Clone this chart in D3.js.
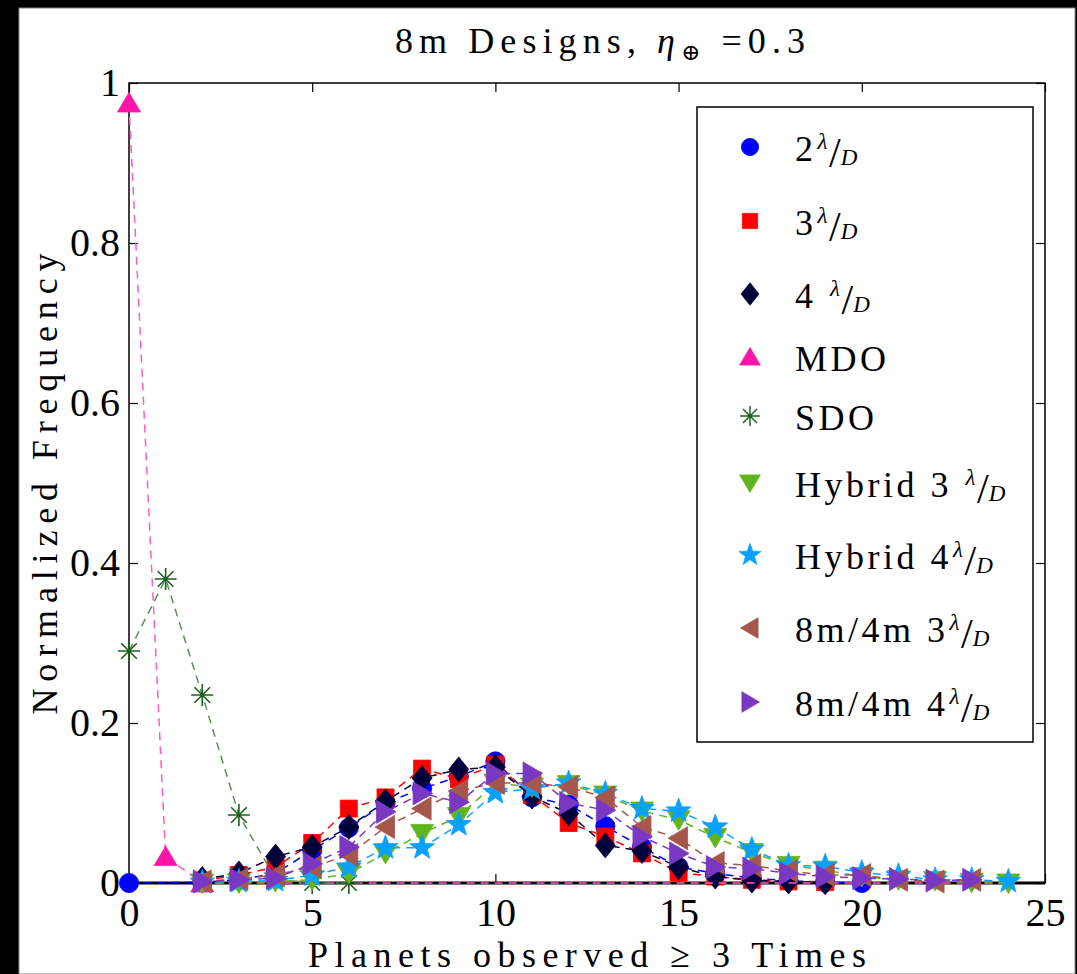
<!DOCTYPE html>
<html>
<head>
<meta charset="utf-8">
<script src="https://cdn.jsdelivr.net/npm/d3@7"></script>
<style>
  html, body { margin: 0; padding: 0; background: #000; }
  svg { display: block; }
  svg text { font-family: "Liberation Serif", "Tinos", "Times New Roman", Times, "DejaVu Serif", "Noto Serif", FreeSerif, serif; fill: #000; }
</style>
</head>
<body>
<div id="chart"></div>
<script>
// ---- data ----
const xTicks = [0, 5, 10, 15, 20, 25];
const xTickLabels = ["0", "5", "10", "15", "20", "25"];
const yTicks = [0, 0.2, 0.4, 0.6, 0.8, 1];
const yTickLabels = ["0", "0.2", "0.4", "0.6", "0.8", "1"];

const titleMain = "8m Designs, ";
const titleTail = " =0.3";
const xLabel = "Planets observed \u2265 3 Times";
const yLabel = "Normalized Frequency";

// 2 lambda/D
const d2x = [0, 2, 3, 4, 5, 6, 7, 8, 9, 10, 11, 12, 13, 14, 15, 16, 17, 18, 19, 20];
const d2y = [0, 0.001, 0.004, 0.012, 0.041, 0.069, 0.1, 0.118, 0.133, 0.152, 0.107, 0.098, 0.071, 0.045, 0.02, 0.012, 0.006, 0.003, 0.001, 0];
// 3 lambda/D
const d3x = [2, 3, 4, 5, 6, 7, 8, 9, 10, 11, 12, 13, 14, 15, 16, 17, 18, 19];
const d3y = [0.003, 0.01, 0.02, 0.05, 0.093, 0.107, 0.143, 0.13, 0.148, 0.11, 0.075, 0.058, 0.037, 0.013, 0.008, 0.004, 0.002, 0.001];
// 4 lambda/D
const d4x = [2, 3, 4, 5, 6, 7, 8, 9, 10, 11, 12, 13, 14, 15, 16, 17, 18, 19];
const d4y = [0.005, 0.012, 0.033, 0.045, 0.07, 0.102, 0.131, 0.142, 0.145, 0.108, 0.087, 0.047, 0.04, 0.02, 0.008, 0.003, 0.002, 0.001];
// MDO (markers only on first three points)
const mdoX = [0, 1, 2, 3, 4, 5, 6, 7, 8, 9, 10, 11, 12, 13, 14, 15, 16, 17, 18, 19, 20, 21, 22, 23, 24];
const mdoY = [0.975, 0.033, 0, 0, 0, 0, 0, 0, 0, 0, 0, 0, 0, 0, 0, 0, 0, 0, 0, 0, 0, 0, 0, 0, 0];
const mdoMarked = 3;
// SDO
const sdoX = [0, 1, 2, 3, 4, 5, 6];
const sdoY = [0.29, 0.38, 0.235, 0.085, 0.005, 0, 0];
// Hybrid 3 lambda/D
const h3x = [2, 3, 4, 5, 6, 7, 8, 9, 10, 11, 12, 13, 14, 15, 16, 17, 18, 19, 20, 21, 22, 23, 24];
const h3y = [0, 0, 0.002, 0.004, 0.012, 0.037, 0.062, 0.083, 0.125, 0.12, 0.123, 0.11, 0.09, 0.079, 0.057, 0.038, 0.022, 0.016, 0.008, 0.004, 0.003, 0.001, 0];
// Hybrid 4 lambda/D
const h4x = [2, 3, 4, 5, 6, 7, 8, 9, 10, 11, 12, 13, 14, 15, 16, 17, 18, 19, 20, 21, 22, 23, 24];
const h4y = [0.001, 0.002, 0.003, 0.01, 0.02, 0.044, 0.044, 0.073, 0.113, 0.118, 0.125, 0.112, 0.093, 0.09, 0.07, 0.042, 0.022, 0.021, 0.013, 0.009, 0.004, 0.004, 0.002];
// 8m/4m 3 lambda/D
const m3x = [2, 3, 4, 5, 6, 7, 8, 9, 10, 11, 12, 13, 14, 15, 16, 17, 18, 19, 20, 21, 22, 23];
const m3y = [0.002, 0.005, 0.01, 0.02, 0.035, 0.07, 0.093, 0.115, 0.125, 0.125, 0.12, 0.107, 0.07, 0.056, 0.025, 0.022, 0.015, 0.01, 0.01, 0.004, 0.002, 0.004];
// 8m/4m 4 lambda/D
const m4x = [2, 3, 4, 5, 6, 7, 8, 9, 10, 11, 12, 13, 14, 15, 16, 17, 18, 19, 20, 21, 22, 23];
const m4y = [0.002, 0.004, 0.006, 0.024, 0.045, 0.089, 0.112, 0.101, 0.137, 0.137, 0.1, 0.091, 0.058, 0.037, 0.02, 0.018, 0.012, 0.008, 0.006, 0.005, 0.003, 0.004];

// legend labels: prefix + optional lambda/D fraction
const legendPrefix = ["2", "3", "4 ", "MDO", "SDO", "Hybrid 3 ", "Hybrid 4", "8m/4m 3", "8m/4m 4"];
const legendHasLD = [true, true, true, false, false, true, true, true, true];

(() => {
  const W = 1077, H = 974;
  const margin = { top: 83, right: 32, bottom: 91, left: 129 };
  const FONT = '"Liberation Serif", "Tinos", "Times New Roman", Times, "DejaVu Serif", "Noto Serif", FreeSerif, serif';

  // marker shapes
  const starPath = (R, r) => {
    let p = "";
    for (let i = 0; i < 10; i++) {
      const a = -Math.PI / 2 + i * Math.PI / 5;
      const rad = i % 2 ? r : R;
      p += (i ? "L" : "M") + (rad * Math.cos(a)).toFixed(2) + "," + (rad * Math.sin(a)).toFixed(2);
    }
    return p + "Z";
  };
  const shapes = {
    circle: d3.symbol(d3.symbolCircle, 290)(),
    square: "M-8.5,-8.5h17v17h-17Z",
    diamond: "M0,-12.5L10,0L0,12.5L-10,0Z",
    triUp: "M0,-10.5L11.5,9L-11.5,9Z",
    triDown: "M0,10.5L11.5,-9L-11.5,-9Z",
    triLeft: "M-10.5,0L9,-11.5L9,11.5Z",
    triRight: "M10.5,0L-9,-11.5L-9,11.5Z",
    star: starPath(13, 5.3),
    asterisk: "M0,-11V11M-11,0H11M-7.8,-7.8L7.8,7.8M-7.8,7.8L7.8,-7.8"
  };

  const series = [
    { x: d2x, y: d2y, color: "#0000ff", shape: "circle" },
    { x: d3x, y: d3y, color: "#ff0000", shape: "square" },
    { x: d4x, y: d4y, color: "#00003a", shape: "diamond" },
    { x: mdoX, y: mdoY, color: "#ff14a8", line: "#ff5cc4", shape: "triUp", marked: mdoMarked },
    { x: sdoX, y: sdoY, color: "#1d5e1d", line: "#5a8f5a", shape: "asterisk" },
    { x: h3x, y: h3y, color: "#60b51e", shape: "triDown" },
    { x: h4x, y: h4y, color: "#0aa0ff", shape: "star" },
    { x: m3x, y: m3y, color: "#a5574b", shape: "triLeft" },
    { x: m4x, y: m4y, color: "#7a38c2", shape: "triRight" }
  ];

  const svg = d3.select("#chart").append("svg")
    .attr("width", W).attr("height", H)
    .attr("font-family", FONT);

  // black frame + white figure
  svg.append("rect").attr("width", W).attr("height", H).attr("fill", "#000");
  svg.append("rect")
    .attr("x", 19).attr("y", 8).attr("width", 1056).attr("height", H - 8)
    .attr("fill", "#fff").attr("stroke", "#888").attr("stroke-width", 1);

  const x = d3.scaleLinear().domain([0, 25]).range([margin.left, W - margin.right]);
  const y = d3.scaleLinear().domain([0, 1]).range([H - margin.bottom, margin.top]);

  const styleAxis = (s, size) => {
    s.attr("font-family", FONT).attr("font-size", size);
    s.selectAll("line").attr("stroke", "#000").attr("stroke-width", 1.2);
    s.select(".domain").remove();
  };

  // axes (ticks inward)
  svg.append("g")
    .attr("transform", `translate(0,${y(0)})`)
    .call(d3.axisBottom(x).tickValues(xTicks).tickFormat((d, i) => xTickLabels[i])
      .tickSizeInner(-9).tickSizeOuter(0).tickPadding(15))
    .call(s => styleAxis(s, 40));

  svg.append("g")
    .attr("transform", `translate(${x(0)},0)`)
    .call(d3.axisLeft(y).tickValues(yTicks).tickFormat((d, i) => yTickLabels[i])
      .tickSizeInner(-9).tickSizeOuter(0).tickPadding(9))
    .call(s => styleAxis(s, 40));

  svg.append("g")
    .attr("transform", `translate(0,${y(1)})`)
    .call(d3.axisTop(x).tickValues(xTicks).tickFormat("").tickSizeInner(-9).tickSizeOuter(0))
    .call(s => styleAxis(s, 10));

  svg.append("g")
    .attr("transform", `translate(${x(25)},0)`)
    .call(d3.axisRight(y).tickValues(yTicks).tickFormat("").tickSizeInner(-9).tickSizeOuter(0))
    .call(s => styleAxis(s, 10));

  // axes box
  svg.append("rect")
    .attr("x", x(0)).attr("y", y(1))
    .attr("width", x(25) - x(0)).attr("height", y(0) - y(1))
    .attr("fill", "none").attr("stroke", "#000").attr("stroke-width", 1.5);
  svg.append("line")
    .attr("x1", x(0)).attr("x2", x(25)).attr("y1", y(0)).attr("y2", y(0))
    .attr("stroke", "#000").attr("stroke-width", 3);

  // series
  const line = d3.line().x(d => x(d[0])).y(d => y(d[1]));
  series.forEach(s => {
    const pts = s.x.map((v, i) => [v, s.y[i]]);
    const g = svg.append("g");
    g.append("path")
      .attr("d", line(pts))
      .attr("fill", "none")
      .attr("stroke", s.line || s.color)
      .attr("stroke-width", 1.5)
      .attr("stroke-dasharray", "8,6");
    const marked = s.marked ? pts.slice(0, s.marked) : pts;
    g.selectAll("path.m")
      .data(marked)
      .enter()
      .append("path")
      .attr("class", "m")
      .attr("d", shapes[s.shape])
      .attr("transform", d => `translate(${x(d[0])},${y(d[1])})`)
      .attr("fill", s.shape === "asterisk" ? "none" : s.color)
      .attr("stroke", s.color)
      .attr("stroke-width", s.shape === "asterisk" ? 1.6 : 0.8);
  });

  // legend
  const legRowY = [147, 221, 294, 357, 416, 483, 555, 628, 702];
  svg.append("rect")
    .attr("x", 697).attr("y", 107).attr("width", 336).attr("height", 635)
    .attr("fill", "#fff").attr("stroke", "#000").attr("stroke-width", 1.5);

  series.forEach((s, i) => {
    const cy = legRowY[i];
    svg.append("path")
      .attr("d", shapes[s.shape])
      .attr("transform", `translate(750,${cy}) scale(0.9)`)
      .attr("fill", s.shape === "asterisk" ? "none" : s.color)
      .attr("stroke", s.color)
      .attr("stroke-width", s.shape === "asterisk" ? 1.6 : 0.8);

    const t = svg.append("text")
      .attr("x", 795).attr("y", cy + 14)
      .attr("font-size", 36)
      .attr("letter-spacing", 3.5);
    t.append("tspan").text(legendPrefix[i]);
    if (legendHasLD[i]) {
      t.append("tspan").attr("font-style", "italic").attr("font-size", 23).attr("dx", 1).attr("dy", -12).text("\u03bb");
      t.append("tspan").attr("font-size", 42).attr("dx", -2).attr("dy", 18).attr("letter-spacing", 0).text("/");
      t.append("tspan").attr("font-style", "italic").attr("font-size", 23).attr("dx", 0).attr("dy", -2).text("D");
    }
  });

  // title
  const title = svg.append("text")
    .attr("x", 600).attr("y", 53)
    .attr("text-anchor", "middle")
    .attr("font-size", 36)
    .attr("textLength", 410)
    .attr("lengthAdjust", "spacing");
  title.append("tspan").text(titleMain);
  title.append("tspan").attr("font-style", "italic").text("\u03b7");
  title.append("tspan").attr("font-size", 23).attr("dy", 7).text("\u2295");
  title.append("tspan").attr("dy", -7).text(titleTail);

  // axis labels
  svg.append("text")
    .attr("x", x(12.5)).attr("y", 967)
    .attr("text-anchor", "middle")
    .attr("font-size", 36)
    .attr("textLength", 558)
    .attr("lengthAdjust", "spacing")
    .text(xLabel);

  svg.append("text")
    .attr("transform", `translate(57,${y(0.5) + 1}) rotate(-90)`)
    .attr("text-anchor", "middle")
    .attr("font-size", 36)
    .attr("textLength", 461)
    .attr("lengthAdjust", "spacing")
    .text(yLabel);
})();
</script>
</body>
</html>
